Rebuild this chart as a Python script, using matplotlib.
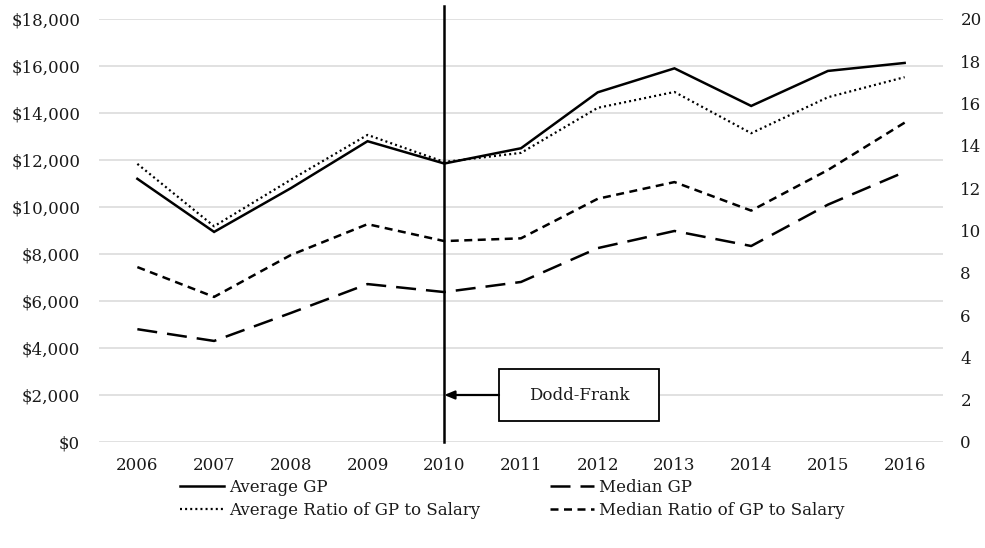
import matplotlib
matplotlib.use("Agg")
import matplotlib.pyplot as plt
from matplotlib.patches import Rectangle

years = ["2006", "2007", "2008", "2009", "2010", "2011", "2012", "2013", "2014", "2015", "2016"]
average_gp = [11200, 8940, 10800, 12800, 11850, 12500, 14880, 15900, 14300, 15790, 16130]
median_gp = [4800, 4300, 5490, 6720, 6380, 6810, 8250, 8980, 8340, 10100, 11490]
avg_ratio = [13.15, 10.2, 12.4, 14.52, 13.24, 13.67, 15.8, 16.55, 14.6, 16.3, 17.25]
med_ratio = [8.27, 6.86, 8.84, 10.3, 9.5, 9.63, 11.5, 12.29, 10.94, 12.86, 15.1]
left_ticks = list(range(0, 18001, 2000))
right_ticks = list(range(0, 21, 2))
event_year = "2010"
event_label = "Dodd-Frank"

plt.rcParams['font.family'] = ['DejaVu Serif']
FS = 12

fig = plt.figure(figsize=(9.85, 5.48), dpi=100)
ax = fig.add_axes([99/985, 1-442/548, (943-99)/985, (442-19)/548])
ax2 = ax.twinx()

x = list(range(len(years)))
ax.set_xlim(-0.5, len(years) - 0.5)
ax.set_ylim(0, 18000)
ax2.set_ylim(0, 20)

ax.set_yticks(left_ticks)
ax.set_yticklabels([f"${v:,}" for v in left_ticks])
ax2.set_yticks(right_ticks)
ax2.set_yticklabels([str(v) for v in right_ticks])
ax.set_xticks(x)
ax.set_xticklabels(years)

for a in (ax, ax2):
    for s in a.spines.values():
        s.set_visible(False)
    a.tick_params(length=0, labelsize=FS, colors='#1a1a1a')
ax.tick_params(axis='y', pad=13.5)
ax.tick_params(axis='x', pad=11)
ax2.tick_params(axis='y', pad=12.5)

ax.grid(axis='y', color='#d9d9d9', lw=1.1)
ax.set_axisbelow(True)

l1, = ax.plot(x, average_gp, color='black', lw=1.8, solid_joinstyle='miter')
l2, = ax.plot(x, median_gp, color='black', lw=1.8, dashes=(8, 4))
l3, = ax2.plot(x, avg_ratio, color='black', lw=1.6, dashes=(0.9, 1.4))
l4, = ax2.plot(x, med_ratio, color='black', lw=1.8, dashes=(3.2, 2.2))

ex = years.index(event_year)
ax.axvline(ex, ymin=0, ymax=(442-6)/423, color='black', lw=1.8, clip_on=False, zorder=5)

# annotation box
step = (943-99)/11
bx0 = (499-99)/step - 0.5
bx1 = (659-99)/step - 0.5
by0 = (442-421)/(423/18000)
by1 = (442-369)/(423/18000)
rect = Rectangle((bx0, by0), bx1-bx0, by1-by0, facecolor='white', edgecolor='black', lw=1.3, zorder=6)
ax.add_patch(rect)
ax.text((bx0+bx1)/2, (by0+by1)/2, event_label, ha='center', va='center', fontsize=FS, zorder=7, color='#1a1a1a')
ax.annotate('', xy=(ex, 2000), xytext=(bx0, 2000),
            arrowprops=dict(arrowstyle='-|>,head_length=0.6,head_width=0.25', color='black', lw=1.6,
                            shrinkA=0, shrinkB=0), zorder=6)

handles = [l1, l3, l2, l4]
labels = ["Average GP", "Average Ratio of GP to Salary", "Median GP", "Median Ratio of GP to Salary"]
leg = fig.legend(handles, labels, ncol=2, loc='center left', bbox_to_anchor=(180/985, 1-499/548),
                 frameon=False, fontsize=FS, handlelength=2.65, handletextpad=0.3,
                 columnspacing=4.2, labelspacing=0.35, borderpad=0, borderaxespad=0)
for t in leg.get_texts():
    t.set_color('#1a1a1a')

fig.savefig("out.png", dpi=100)
